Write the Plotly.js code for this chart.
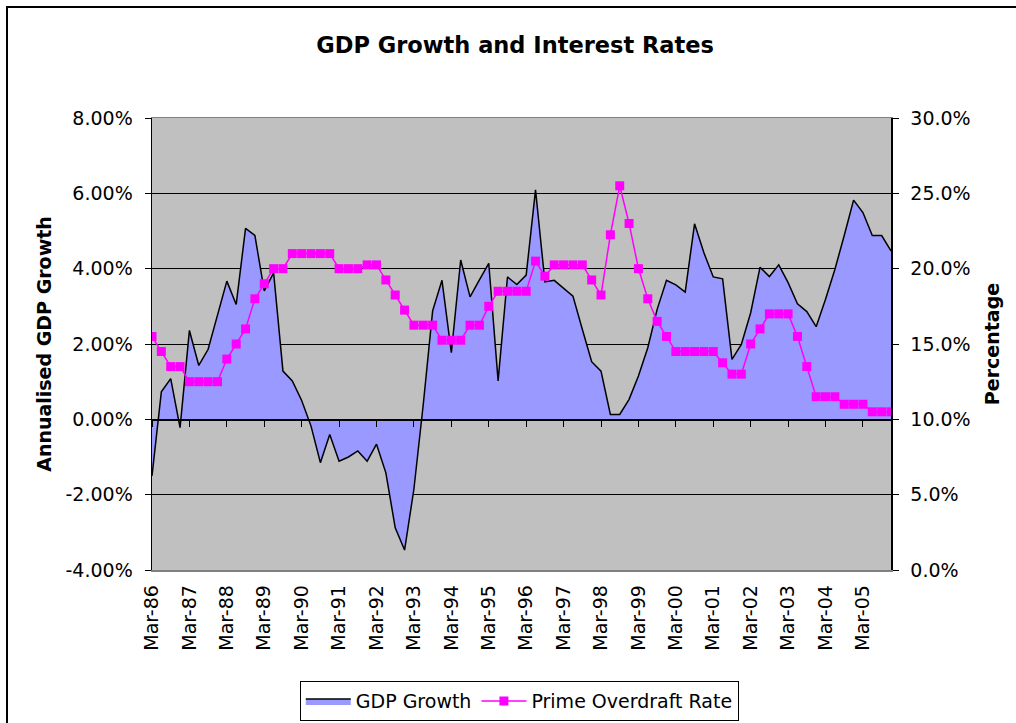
<!DOCTYPE html>
<html>
<head>
<meta charset="utf-8">
<script src="https://cdn.plot.ly/plotly-3.0.1.min.js"></script>
<style>
  html, body { margin: 0; padding: 0; overflow: hidden; background: #fff; }
  #chart { width: 1016px; height: 723px; }
  #frame { position: absolute; left: 6px; top: 6px; width: 1100px; height: 800px;
           border: 2px solid #000; pointer-events: none; }
</style>
</head>
<body>
<div id="chart"></div>
<div id="frame"></div>
<script>
// ---- data ----
const months = ["Mar", "Jun", "Sep", "Dec"];
const years = ["86","87","88","89","90","91","92","93","94","95",
               "96","97","98","99","00","01","02","03","04","05"];
const quarters = [];
years.forEach(y => months.forEach(m => quarters.push(m + "-" + y)));

const tickLabels = ["Mar-86","Mar-87","Mar-88","Mar-89","Mar-90","Mar-91","Mar-92",
  "Mar-93","Mar-94","Mar-95","Mar-96","Mar-97","Mar-98","Mar-99","Mar-00",
  "Mar-01","Mar-02","Mar-03","Mar-04","Mar-05"];

const leftTickVals = [-4, -2, 0, 2, 4, 6, 8];
const leftTickText = ["-4.00%", "-2.00%", "0.00%", "2.00%", "4.00%", "6.00%", "8.00%"];
const rightTickVals = [0, 5, 10, 15, 20, 25, 30];
const rightTickText = ["0.0%", "5.0%", "10.0%", "15.0%", "20.0%", "25.0%", "30.0%"];

// Annualised GDP growth (%)
const gdpGrowth = [
  -1.50, 0.73, 1.08, -0.22,
   2.36, 1.43, 1.86, 2.80,
   3.67, 3.05, 5.07, 4.88,
   3.41, 3.89, 1.28, 1.02,
   0.50, -0.18, -1.15, -0.40,
  -1.11, -1.00, -0.84, -1.11,
  -0.66, -1.42, -2.88, -3.47,
  -1.85, 0.40, 2.88, 3.69,
   1.77, 4.23, 3.25, 3.70,
   4.14, 1.02, 3.78, 3.58,
   3.83, 6.09, 3.65, 3.69,
   3.48, 3.27, 2.39, 1.53,
   1.28, 0.13, 0.13, 0.53,
   1.15, 1.90, 2.92, 3.69,
   3.57, 3.38, 5.19, 4.42,
   3.78, 3.73, 1.59, 1.99,
   2.83, 4.04, 3.79, 4.10,
   3.63, 3.07, 2.86, 2.46,
   3.19, 3.98, 4.88, 5.82,
   5.49, 4.88, 4.88, 4.47
];

// Prime overdraft rate (%)
const primeRate = [
  15.5, 14.5, 13.5, 13.5,
  12.5, 12.5, 12.5, 12.5,
  14.0, 15.0, 16.0, 18.0,
  19.0, 20.0, 20.0, 21.0,
  21.0, 21.0, 21.0, 21.0,
  20.0, 20.0, 20.0, 20.25,
  20.25, 19.25, 18.25, 17.25,
  16.25, 16.25, 16.25, 15.25,
  15.25, 15.25, 16.25, 16.25,
  17.5, 18.5, 18.5, 18.5,
  18.5, 20.5, 19.5, 20.25,
  20.25, 20.25, 20.25, 19.25,
  18.25, 22.25, 25.5, 23.0,
  20.0, 18.0, 16.5, 15.5,
  14.5, 14.5, 14.5, 14.5,
  14.5, 13.75, 13.0, 13.0,
  15.0, 16.0, 17.0, 17.0,
  17.0, 15.5, 13.5, 11.5,
  11.5, 11.5, 11.0, 11.0,
  11.0, 10.5, 10.5, 10.5
];

// ---- chart ----
const FONT = "DejaVu Sans, Arial, sans-serif";

const traces = [
  {
    name: "GDP Growth",
    type: "scatter",
    mode: "lines",
    x: quarters,
    y: gdpGrowth,
    xaxis: "x",
    yaxis: "y",
    fill: "tozeroy",
    fillcolor: "#9999FF",
    line: { color: "#000000", width: 1.5 },
    hoverinfo: "x+y"
  },
  {
    name: "Prime Overdraft Rate",
    type: "scatter",
    mode: "lines+markers",
    x: quarters,
    y: primeRate,
    xaxis: "x2",
    yaxis: "y2",
    line: { color: "#FF00FF", width: 1.5 },
    marker: { symbol: "square", size: 9, color: "#FF00FF" },
    hoverinfo: "x+y"
  }
];

const layout = {
  width: 1016,
  height: 723,
  margin: { l: 152, r: 125, t: 118, b: 153, autoexpand: false },
  paper_bgcolor: "#FFFFFF",
  plot_bgcolor: "#C0C0C0",
  font: { family: FONT, size: 19, color: "#000000" },
  title: {
    text: "GDP Growth and Interest Rates",
    font: { family: FONT, size: 22.5, weight: "bold", color: "#000000" },
    x: 0.507, xref: "container", xanchor: "center",
    y: 0.938, yref: "container", yanchor: "middle"
  },
  showlegend: true,
  legend: {
    orientation: "h",
    x: 0.497, xref: "paper", xanchor: "center",
    y: -0.246, yanchor: "top",
    bgcolor: "#FFFFFF",
    bordercolor: "#000000",
    borderwidth: 1,
    font: { family: FONT, size: 19, color: "#000000" },
    itemwidth: 45,
    traceorder: "normal"
  },
  xaxis: {
    type: "category",
    range: [0, 79],
    tickmode: "array",
    tickvals: tickLabels,
    ticktext: tickLabels,
    tickangle: -90,
    ticks: "",
    ticklabelstandoff: 6,
    showgrid: false,
    zeroline: false,
    showline: true,
    linecolor: "#808080",
    linewidth: 1.5,
    mirror: true,
    tickfont: { family: FONT, size: 19, color: "#000000" },
    automargin: false
  },
  xaxis2: {
    type: "category",
    range: [0, 79],
    overlaying: "x",
    anchor: "free",
    position: 0.33333,
    tickmode: "array",
    tickvals: tickLabels,
    showticklabels: false,
    ticks: "outside",
    ticklen: 6,
    tickcolor: "#000000",
    tickwidth: 1,
    showgrid: false,
    zeroline: false,
    showline: true,
    linecolor: "#000000",
    linewidth: 1.5
  },
  yaxis: {
    range: [-4, 8],
    tickmode: "array",
    tickvals: leftTickVals,
    ticktext: leftTickText,
    showgrid: true,
    gridcolor: "#000000",
    gridwidth: 1,
    zeroline: true,
    zerolinecolor: "#000000",
    zerolinewidth: 1,
    showline: true,
    linecolor: "#000000",
    linewidth: 1.5,
    ticks: "outside",
    ticklen: 6,
    tickcolor: "#000000",
    ticklabelstandoff: 8,
    tickfont: { family: FONT, size: 19, color: "#000000" },
    title: {
      text: "Annualised GDP Growth",
      font: { family: FONT, size: 19, weight: "bold", color: "#000000" },
      standoff: 9
    },
    automargin: false
  },
  yaxis2: {
    overlaying: "y",
    side: "right",
    anchor: "x",
    range: [0, 30],
    tickmode: "array",
    tickvals: rightTickVals,
    ticktext: rightTickText,
    showgrid: false,
    zeroline: false,
    showline: true,
    linecolor: "#000000",
    linewidth: 1.5,
    ticks: "outside",
    ticklen: 6,
    tickcolor: "#000000",
    ticklabelstandoff: 8,
    tickfont: { family: FONT, size: 19, color: "#000000" },
    title: {
      text: "Percentage",
      font: { family: FONT, size: 19, weight: "bold", color: "#000000" },
      standoff: 16
    },
    automargin: false
  }
};

Plotly.newPlot("chart", traces, layout, { displayModeBar: false, staticPlot: true });
</script>
</body>
</html>
